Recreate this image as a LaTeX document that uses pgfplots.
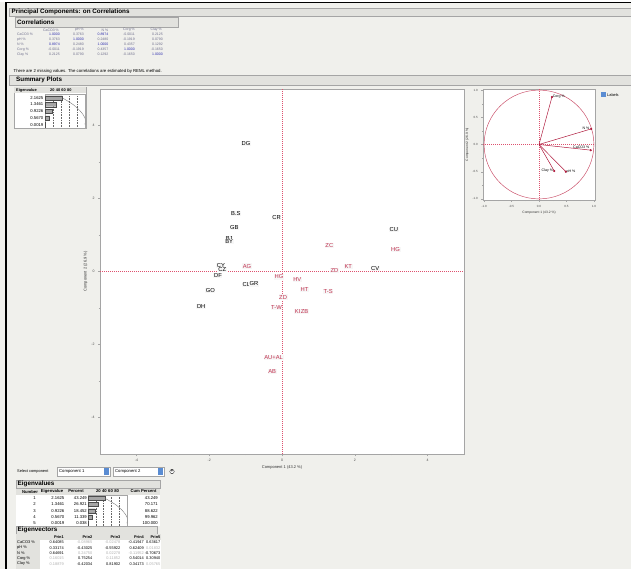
\documentclass[border=0pt]{standalone}
\usepackage{pgfplots}
\pgfplotsset{compat=1.18}
\usepackage{pgfplotstable}
\usepackage{fontspec}
\setmainfont{Liberation Sans}
\definecolor{bg}{RGB}{240,240,236}
\definecolor{hdr}{RGB}{226,226,222}
\definecolor{frm}{RGB}{165,165,165}
\definecolor{lblred}{RGB}{192,48,78}
\definecolor{refred}{RGB}{222,80,110}
\definecolor{vecred}{RGB}{175,25,60}
\definecolor{tblue}{RGB}{45,45,175}
\definecolor{tgray}{RGB}{110,110,140}
\definecolor{lgray}{RGB}{175,175,175}
\definecolor{btnblue}{RGB}{90,140,210}
\newcommand\ft{\fontsize{3.5}{4}\selectfont}
\newcommand\fe{\fontsize{4.2}{4.8}\selectfont}
\newcommand\feb{\fontsize{4.2}{4.8}\selectfont\bfseries}
\newcommand\fv{\fontsize{3.9}{4.4}\selectfont}
\newcommand\fvb{\fontsize{3.9}{4.4}\selectfont\bfseries}
\newcommand\fh{\fontsize{6.3}{7}\selectfont\bfseries}
\newcommand\cB{\color{tblue}}
\newcommand\cG{\color{tgray}}
\newcommand\cL{\color{lgray}}

\pgfplotstableread{
x y label
-0.99 3.50 DG
-1.27 1.59 B.S
-0.15 1.48 CR
-1.31 1.20 GB
-1.45 0.90 BJ
-1.45 0.83 BY
3.07 1.16 CU
-1.68 0.17 CY
-1.64 0.05 CZ
-1.76 -0.12 DF
2.56 0.08 CV
-0.98 -0.36 CL
-0.77 -0.34 GR
-1.97 -0.52 GO
-2.22 -0.95 DH
}\blackpts
\pgfplotstableread{
x y label
1.30 0.72 ZC
3.12 0.60 HG
-0.96 0.15 AG
1.44 0.03 ZD
1.82 0.13 KT
-0.08 -0.15 HG
0.42 -0.22 HV
0.62 -0.49 HT
1.27 -0.54 T-S
0.03 -0.70 ZD
-0.15 -0.98 T-W
0.43 -1.09 KI
0.62 -1.09 ZB
-0.23 -2.35 AU+AL
-0.27 -2.75 AB
}\redpts

\pgfplotsset{mini/.style={scale only axis, xmin=0, xmax=100, ymin=0.5, ymax=5.5, y dir=reverse,
  axis line style={frm, line width=0.3pt}, xtick={20,40,60,80}, ytick=\empty, xticklabels={},
  major tick length=0pt, xmajorgrids, major grid style={black!60, dash pattern=on 0.8pt off 0.8pt, line width=0.25pt},
  axis background/.style={fill=white}}}

\begin{document}
\begin{tikzpicture}
\useasboundingbox (0pt,0pt) rectangle (631pt,-569pt);
\fill[bg] (0pt,0pt) rectangle (631pt,-569pt);
\begin{scope}[x=1pt,y=-1pt]
\fill[white] (0,0) rectangle (631,1.8);
\draw[line width=1.3pt] (6,569) -- (6,2.6) -- (631,2.6);
% title
\draw[frm,fill=hdr,line width=0.3pt] (9,8) rectangle (631,16.5);
\node[anchor=west,font=\fh,inner sep=0] at (11.5,12.3) {Principal Components: on Correlations};
\draw[frm,fill=hdr,line width=0.3pt] (15,17.5) rectangle (178,27.5);
\node[anchor=west,font=\fh,inner sep=0] at (17,22.5) {Correlations};
% correlations table
\foreach \t/\xx in {{CaCO3 \%}/59,{pH \%}/84,{N \%}/108.5,{Corg \%}/135,{Clay \%}/162}
  \node[anchor=east,font=\ft,inner sep=0,text=tgray] at (\xx,30) {\t};
\foreach \lab/\yy/\va/\vb/\vc/\vd/\ve in {
 {CaCO3 \%}/34.5/{\cB 1.0000}/{\cG 0.3763}/{\cB 0.8974}/{\cG -0.0011}/{\cG 0.2125},
 {pH \%}/39.2/{\cG 0.3763}/{\cB 1.0000}/{\cG 0.2480}/{\cG -0.1919}/{\cG 0.0790},
 {N \%}/44/{\cB 0.8974}/{\cG 0.2480}/{\cB 1.0000}/{\cG 0.4357}/{\cG 0.1292},
 {Corg \%}/49.6/{\cG -0.0011}/{\cG -0.1919}/{\cG 0.4357}/{\cB 1.0000}/{\cG -0.1650},
 {Clay \%}/54.2/{\cG 0.2125}/{\cG 0.0790}/{\cG 0.1292}/{\cG -0.1650}/{\cB 1.0000}}
{
 \node[anchor=west,font=\ft,inner sep=0,text=tgray] at (17,\yy) {\lab};
 \node[anchor=east,font=\ft,inner sep=0] at (60,\yy) {\va};
 \node[anchor=east,font=\ft,inner sep=0] at (84,\yy) {\vb};
 \node[anchor=east,font=\ft,inner sep=0] at (108.5,\yy) {\vc};
 \node[anchor=east,font=\ft,inner sep=0] at (135,\yy) {\vd};
 \node[anchor=east,font=\ft,inner sep=0] at (163,\yy) {\ve};
}
\node[anchor=west,font=\fontsize{4.3}{5}\selectfont,inner sep=0] at (13.5,71) {There are 2 missing values. The correlations are estimated by REML method.};
% summary plots header
\draw[frm,fill=hdr,line width=0.3pt] (9,75.5) rectangle (631,85);
\node[anchor=west,font=\fh,inner sep=0] at (16,80.3) {Summary Plots};
% mini eigenvalue table (top)
\draw[frm,fill=white,line width=0.3pt] (14,87) rectangle (86,128.5);
\fill[hdr] (14.2,87.2) rectangle (85.8,93.5);
\node[anchor=west,font=\fvb,inner sep=0] at (16,90.3) {Eigenvalue};
\node[anchor=west,font=\fvb,inner sep=0] at (50,90.3) {20\,\,40\,\,60\,\,80};
\foreach \v/\yy in {2.1625/97.8,1.3461/104.5,0.9226/111.2,0.5670/117.9,0.0019/124.6}
  \node[anchor=east,font=\fe,inner sep=0] at (43.5,\yy) {\v};
% select component
\node[anchor=west,font=\fv,inner sep=0] at (17,471.7) {Select component};
\draw[frm,fill=white,line width=0.3pt] (57,467.5) rectangle (110,476);
\node[anchor=west,font=\fe,inner sep=0] at (59,471.7) {Component 1};
\fill[btnblue] (104,468.3) rectangle (109.3,475.2);
\draw[frm,fill=white,line width=0.3pt] (113,467.5) rectangle (164,476);
\node[anchor=west,font=\fe,inner sep=0] at (115,471.7) {Component 2};
\fill[btnblue] (157.8,468.3) rectangle (163.2,475.2);
\draw[black,fill=white,line width=0.3pt] (172,471.5) circle (2.2);
\node[font=\fontsize{4}{4}\selectfont\bfseries,inner sep=0] at (172,471.5) {+};
% eigenvalues
\draw[frm,fill=hdr,line width=0.3pt] (16,480) rectangle (160,488.5);
\node[anchor=west,font=\fh,inner sep=0] at (17.5,484.3) {Eigenvalues};
\fill[hdr] (16,488.5) rectangle (160,494.5);
\fill[white] (16,494.5) rectangle (160,526);
\node[font=\feb,inner sep=0] at (30,491.5) {Number};
\node[font=\feb,inner sep=0] at (52,491.5) {Eigenvalue};
\node[font=\feb,inner sep=0] at (76,491.5) {Percent};
\node[font=\feb,inner sep=0] at (107.5,491.5) {20\,\,40\,\,60\,\,80};
\node[font=\feb,inner sep=0] at (143.5,491.5) {Cum Percent};
\foreach \n/\ev/\pc/\cp/\yy in {1/2.1625/43.249/43.249/498.2,2/1.3461/26.921/70.171/504.5,3/0.9226/18.452/88.622/510.8,4/0.5670/11.339/99.962/517.1,5/0.0019/0.038/100.000/523.4}
{
 \node[anchor=east,font=\fe,inner sep=0] at (36,\yy) {\n};
 \node[anchor=east,font=\fe,inner sep=0] at (64.5,\yy) {\ev};
 \node[anchor=east,font=\fe,inner sep=0] at (87,\yy) {\pc};
 \node[anchor=east,font=\fe,inner sep=0] at (158,\yy) {\cp};
}
% eigenvectors
\draw[frm,fill=hdr,line width=0.3pt] (16,526.5) rectangle (157,534);
\node[anchor=west,font=\fh,inner sep=0] at (17.5,530.3) {Eigenvectors};
\fill[hdr] (16,534) rectangle (161,539.5);
\fill[hdr] (16,539.5) rectangle (40,569);
\fill[white] (40,539.5) rectangle (161,569);
\foreach \t/\xx in {Prin1/64,Prin2/92.5,Prin3/120.5,Prin4/144,Prin5/160.5}
  \node[anchor=east,font=\fvb,inner sep=0] at (\xx,536.8) {\t};
\foreach \lab/\yy/\va/\vb/\vc/\vd/\ve in {
 {CaCO3 \%}/542.5/{0.64085}/{\cL -0.08965}/{\cL -0.02478}/{-0.41947}/{0.63617},
 {pH \%}/548/{0.33174}/{-0.43025}/{-0.55922}/{0.62409}/{\cL 0.01832},
 {N \%}/553/{0.64691}/{\cL 0.24750}/{\cL 0.02278}/{\cL -0.11952}/{-0.70673},
 {Corg \%}/558.5/{\cL 0.16015}/{0.75254}/{\cL 0.11852}/{0.54014}/{0.30940},
 {Clay \%}/563.7/{\cL 0.18879}/{-0.42034}/{0.81902}/{0.34173}/{\cL 0.05765}}
{
 \node[anchor=west,font=\fv,inner sep=0] at (17,\yy) {\lab};
 \node[anchor=east,font=\fv,inner sep=0] at (64,\yy) {\va};
 \node[anchor=east,font=\fv,inner sep=0] at (92.5,\yy) {\vb};
 \node[anchor=east,font=\fv,inner sep=0] at (120.5,\yy) {\vc};
 \node[anchor=east,font=\fv,inner sep=0] at (144,\yy) {\vd};
 \node[anchor=east,font=\fv,inner sep=0] at (160.5,\yy) {\ve};
}
% labels checkbox
\fill[btnblue] (601,92.5) rectangle (605.5,97);
\node[anchor=west,font=\fv,inner sep=0] at (607,94.8) {Labels};
\end{scope}

% top mini eigenvalue chart
\begin{axis}[mini, at={(45pt,-128pt)}, anchor=south west, width=40pt, height=33.5pt]
\addplot[xbar, bar width=4.2pt, fill=black!35, draw=black!70, line width=0.25pt] coordinates {(43.249,1) (26.921,2) (18.452,3) (11.339,4) (0.038,5)};
\addplot[smooth, black!60, line width=0.3pt, mark=none] coordinates {(43.249,1) (70.171,2) (88.622,3) (99.962,4) (100,5)};
\end{axis}

% eigenvalue table chart
\begin{axis}[mini, at={(88pt,-526.5pt)}, anchor=south west, width=39pt, height=31.5pt]
\addplot[xbar, bar width=4.2pt, fill=black!35, draw=black!70, line width=0.25pt] coordinates {(43.249,1) (26.921,2) (18.452,3) (11.339,4) (0.038,5)};
\addplot[smooth, black!60, line width=0.3pt, mark=none] coordinates {(43.249,1) (70.171,2) (88.622,3) (99.962,4) (100,5)};
\end{axis}

% main score plot
\begin{axis}[at={(100pt,-454pt)}, anchor=south west, scale only axis,
  width=364pt, height=365pt, xmin=-5, xmax=5, ymin=-5, ymax=5,
  axis background/.style={fill=white},
  axis line style={frm, line width=0.4pt},
  xtick={-4,-2,0,2,4}, ytick={-4,-2,0,2,4},
  minor xtick={-3,-1,1,3}, minor ytick={-3,-1,1,3},
  tick align=outside, tick pos=left,
  major tick length=2pt, minor tick length=1.2pt,
  tick style={frm, line width=0.3pt},
  /pgf/number format/assume math mode=true,
  tick label style={font=\fontsize{3.5}{4}\selectfont, text=black!70},
  xlabel={Component 1 (43.2 \%)}, ylabel={Component 2 (26.9 \%)},
  label style={font=\fontsize{4}{4.5}\selectfont, text=black!80},
  xlabel style={yshift=3pt}, ylabel style={yshift=-3pt},
  clip=false]
\draw[refred, dash pattern=on 1.2pt off 0.8pt, line width=0.4pt] (axis cs:0,-5) -- (axis cs:0,5);
\draw[refred, dash pattern=on 1.2pt off 0.8pt, line width=0.4pt] (axis cs:-5,0) -- (axis cs:5,0);
\addplot[only marks, mark=none, point meta=explicit symbolic, nodes near coords,
  nodes near coords style={anchor=center, font=\fontsize{5.8}{6}\selectfont, text=black, fill=black!3, inner sep=0.6pt}]
  table[x=x, y=y, meta=label] {\blackpts};
\addplot[only marks, mark=none, point meta=explicit symbolic, nodes near coords,
  nodes near coords style={anchor=center, font=\fontsize{5.8}{6}\selectfont, text=lblred, fill=black!3, inner sep=0.6pt}]
  table[x=x, y=y, meta=label] {\redpts};
\end{axis}

% loading plot
\begin{axis}[at={(483pt,-200pt)}, anchor=south west, scale only axis,
  width=112pt, height=111pt, xmin=-1.02, xmax=1.02, ymin=-1.02, ymax=1.02,
  axis background/.style={fill=white},
  axis line style={frm, line width=0.4pt},
  xtick={-1,-0.5,0,0.5,1}, ytick={-1,-0.5,0,0.5,1},
  minor xtick={-0.75,-0.25,0.25,0.75}, minor ytick={-0.75,-0.25,0.25,0.75},
  tick align=outside, tick pos=left,
  major tick length=1.6pt, minor tick length=1pt,
  tick style={frm, line width=0.3pt},
  /pgf/number format/assume math mode=true,
  /pgf/number format/.cd, fixed, fixed zerofill, precision=1, /pgfplots/.cd,
  tick label style={font=\fontsize{3}{3.5}\selectfont, text=black!70},
  xlabel={Component 1 (43.2 \%)}, ylabel={Component 2 (26.9 \%)},
  label style={font=\fontsize{3.3}{4}\selectfont, text=black!80},
  xlabel style={yshift=3pt}, ylabel style={yshift=-3pt},
  clip=false]
\draw[refred, dash pattern=on 1.2pt off 0.8pt, line width=0.4pt] (axis cs:0,-1.02) -- (axis cs:0,1.02);
\draw[refred, dash pattern=on 1.2pt off 0.8pt, line width=0.4pt] (axis cs:-1.02,0) -- (axis cs:1.02,0);
\draw[refred!90!black, line width=0.45pt] (axis cs:0,0) ellipse [x radius=1, y radius=1];
\addplot[vecred, line width=0.5pt, mark=*, mark size=0.8pt, mark indices={2}] coordinates {(0,0) (0.236,0.873)};
\addplot[vecred, line width=0.5pt, mark=*, mark size=0.8pt, mark indices={2}] coordinates {(0,0) (0.951,0.287)};
\addplot[vecred, line width=0.5pt, mark=*, mark size=0.8pt, mark indices={2}] coordinates {(0,0) (0.942,-0.104)};
\addplot[vecred, line width=0.5pt, mark=*, mark size=0.8pt, mark indices={2}] coordinates {(0,0) (0.488,-0.499)};
\addplot[vecred, line width=0.5pt, mark=*, mark size=0.8pt, mark indices={2}] coordinates {(0,0) (0.278,-0.488)};
\node[anchor=west, font=\fontsize{3.6}{4}\selectfont, inner sep=0.5pt] at (axis cs:0.24,0.873) {Corg \%};
\node[anchor=east, font=\fontsize{3.6}{4}\selectfont, inner sep=0.5pt] at (axis cs:0.93,0.30) {N \%};
\node[anchor=east, font=\fontsize{3.6}{4}\selectfont, inner sep=0.5pt] at (axis cs:0.93,-0.05) {CaCO3 \%};
\node[anchor=west, font=\fontsize{3.6}{4}\selectfont, inner sep=0.5pt] at (axis cs:0.49,-0.49) {pH \%};
\node[anchor=east, font=\fontsize{3.6}{4}\selectfont, inner sep=0.5pt] at (axis cs:0.27,-0.48) {Clay \%};
\end{axis}
\end{tikzpicture}
\end{document}
